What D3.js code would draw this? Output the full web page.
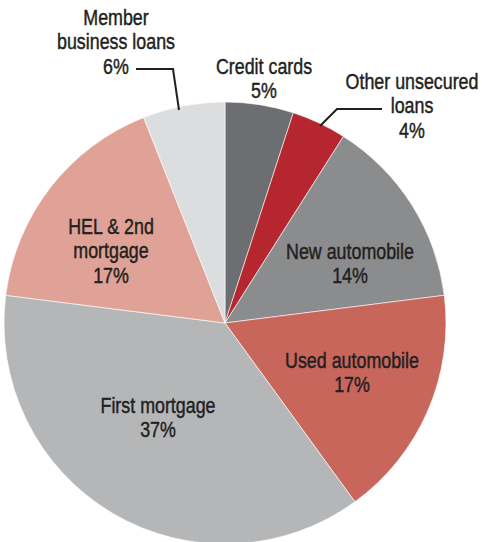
<!DOCTYPE html>
<html>
<head>
<meta charset="utf-8">
<script src="https://cdn.jsdelivr.net/npm/d3@7"></script>
<style>
  html, body { margin: 0; padding: 0; background: #fff; }
  svg text {
    font-family: "Liberation Sans", Arial, sans-serif;
    font-size: 21.5px;
    fill: #231f20;
    stroke: #231f20;
    stroke-width: 0.45px;
  }
</style>
</head>
<body>
<svg id="chart" width="482" height="542"></svg>
<script>
// Loan portfolio composition, clockwise from 12 o'clock
const categories = [
  "Credit cards",
  "Other unsecured loans",
  "New automobile",
  "Used automobile",
  "First mortgage",
  "HEL & 2nd mortgage",
  "Member business loans"
];
const shares = [5, 4, 14, 17, 37, 17, 6];
const sliceColors = ["#6d6e71", "#b5262f", "#8b8c8e", "#c8665b", "#b5b6b8", "#e0a296", "#dcdddf"];

// How each category name is broken across lines
const labelLines = [
  ["Credit cards"],
  ["Other unsecured", "loans"],
  ["New automobile"],
  ["Used automobile"],
  ["First mortgage"],
  ["HEL & 2nd", "mortgage"],
  ["Member", "business loans"]
];

const width = 482, height = 542;
const cx = 225, cy = 323, radius = 221;
const narrow = 0.83; // horizontal squeeze for a condensed look

const svg = d3.select("#chart");
const g = svg.append("g").attr("transform", `translate(${cx},${cy})`);

const pie = d3.pie().sort(null).value(d => d.value);
const arc = d3.arc().innerRadius(0).outerRadius(radius);

const data = categories.map((c, i) => ({ name: c, value: shares[i], color: sliceColors[i], lines: labelLines[i] }));
const arcs = pie(data);

g.selectAll("path.slice")
  .data(arcs)
  .join("path")
  .attr("class", "slice")
  .attr("d", arc)
  .attr("fill", d => d.data.color)
  .attr("stroke", "#ffffff")
  .attr("stroke-width", 0.6);

// Label anchor (center x, first baseline) per slice, in page coordinates
const labelPos = [
  [264, 74],
  [412, 89],
  [350, 259],
  [352, 368],
  [158, 413],
  [111, 234],
  [116, 25]
];
const lineGap = 24.5;

const labels = svg.selectAll("g.lbl")
  .data(arcs)
  .join("g")
  .attr("class", "lbl")
  .attr("transform", (d, i) => `translate(${labelPos[i][0]},${labelPos[i][1]}) scale(${narrow},1)`)
  .append("text")
  .attr("text-anchor", "middle");

labels.each(function(d) {
  const t = d3.select(this);
  const lines = d.data.lines.concat([d.data.value + "%"]);
  lines.forEach((ln, k) => {
    t.append("tspan")
      .attr("x", 0)
      .attr("dy", k === 0 ? 0 : lineGap)
      .text(ln);
  });
});

// Leader lines for the two labels placed outside their slices
const leaders = [
  [[136, 69], [173, 69], [179, 110]],
  [[382, 109], [337, 109], [320, 126]]
];
svg.selectAll("path.leader")
  .data(leaders)
  .join("path")
  .attr("class", "leader")
  .attr("d", d3.line())
  .attr("fill", "none")
  .attr("stroke", "#231f20")
  .attr("stroke-width", 2);
</script>
</body>
</html>
